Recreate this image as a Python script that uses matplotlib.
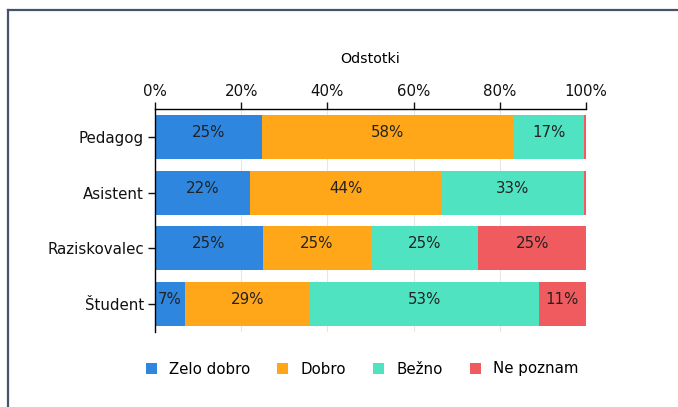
import matplotlib
matplotlib.use("Agg")
import matplotlib.pyplot as plt
from matplotlib.patches import Patch
import numpy as np

categories = ["Pedagog", "Asistent", "Raziskovalec", "Študent"]
series_names = ["Zelo dobro", "Dobro", "Bežno", "Ne poznam"]
zelo_dobro = [24.8, 22.1, 25.0, 7.0]
dobro = [58.2, 44.3, 25.0, 29.0]
bezno = [16.6, 33.2, 25.0, 53.0]
ne_poznam = [0.4, 0.4, 25.0, 11.0]
colors = ["#2e86de", "#ffa619", "#50e3c2", "#ef5b5f"]
ticks = [0, 20, 40, 60, 80, 100]
tick_labels = ["0%", "20%", "40%", "60%", "80%", "100%"]

plt.rcParams['font.family'] = ['DejaVu Sans']

fig = plt.figure(figsize=(6.78, 4.07), dpi=100)
ax = fig.add_axes([155/678, 1-332/407, (586-155)/678, (332-109)/407])

y = np.arange(len(categories))
left = np.zeros(len(categories))
for vals, col in zip([zelo_dobro, dobro, bezno, ne_poznam], colors):
    vals = np.array(vals)
    ax.barh(y, vals, left=left, height=0.79, color=col, zorder=2)
    for yi, (l, v) in enumerate(zip(left, vals)):
        if v >= 3:
            ax.text(l + v/2, yi - 0.08, f"{round(v):.0f}%", ha="center", va="center",
                    fontsize=10.8, color="#222222", zorder=3)
    left += vals

ax.set_xlim(0, 100)
ax.set_ylim(3.5, -0.5)
ax.set_yticks(y)
ax.set_yticklabels(categories, fontsize=10.8)
ax.set_xticks(ticks)
ax.set_xticklabels(tick_labels, fontsize=10.8)
ax.xaxis.tick_top()
ax.xaxis.set_label_position("top")
ax.set_xlabel("Odstotki", fontsize=10.3, labelpad=15)
ax.tick_params(axis="x", length=5, width=1, pad=2, colors="#111111")
ax.tick_params(axis="y", length=5, width=1, pad=3, colors="#111111")
for s in ["right", "bottom"]:
    ax.spines[s].set_visible(False)
for s in ["top", "left"]:
    ax.spines[s].set_linewidth(1)
ax.grid(axis="x", color="#e6e6e6", linewidth=0.8, zorder=0)
ax.set_axisbelow(True)

handles = [Patch(facecolor=c, edgecolor="none") for c in colors]
fig.legend(handles, series_names, loc="center", bbox_to_anchor=(362/678, 1-369/407),
           ncol=4, frameon=False, fontsize=10.8, handlelength=0.75, handleheight=0.75,
           handletextpad=0.8, columnspacing=1.8)

# frame lines (top and left)
fig.add_artist(plt.Line2D([7.5/678, 1], [1-9.5/407, 1-9.5/407], transform=fig.transFigure,
                          color="#44546a", linewidth=1.6))
fig.add_artist(plt.Line2D([7.5/678, 7.5/678], [0, 1-9.5/407], transform=fig.transFigure,
                          color="#44546a", linewidth=1.6))

fig.savefig("out.png", dpi=100)
